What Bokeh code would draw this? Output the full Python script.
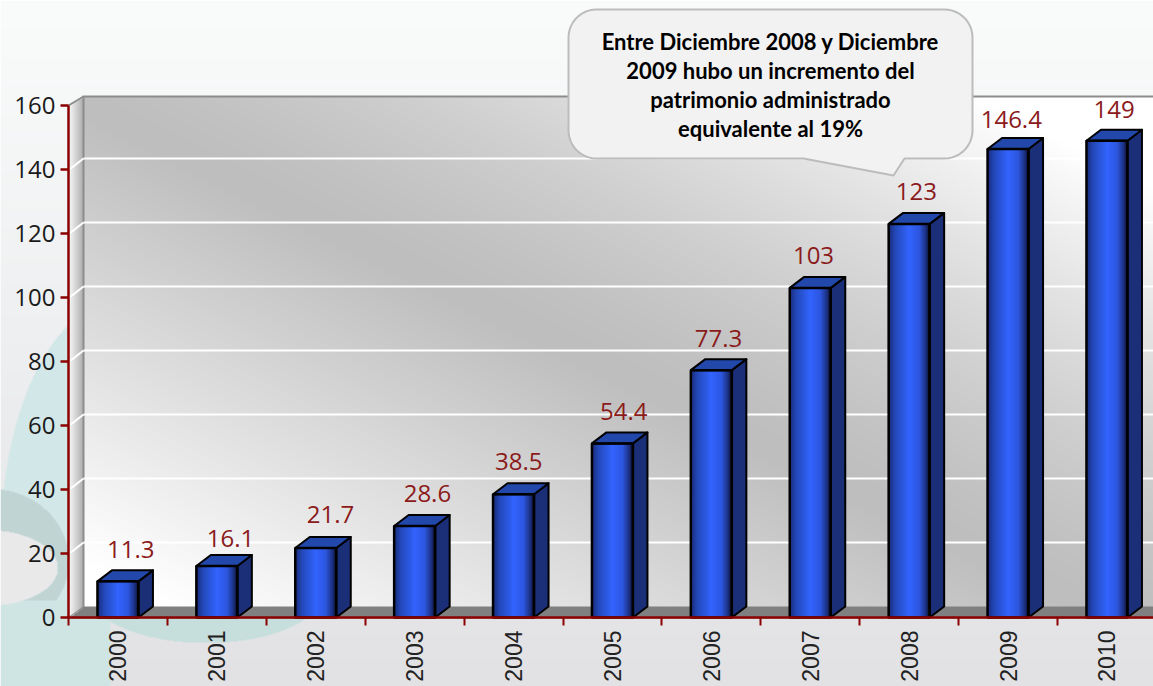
import numpy as np
from bokeh.plotting import figure
from bokeh.models import Range1d, LinearAxis, FixedTicker
from bokeh.core.properties import value
from bokeh.embed import file_html
from bokeh.resources import INLINE

years = [2000, 2001, 2002, 2003, 2004, 2005, 2006, 2007, 2008, 2009, 2010]
amounts = [11.3, 16.1, 21.7, 28.6, 38.5, 54.4, 77.3, 103, 123, 146.4, 149]
bar_labels = ["11.3", "16.1", "21.7", "28.6", "38.5", "54.4", "77.3", "103", "123", "146.4", "149"]
y_ticks = [0, 20, 40, 60, 80, 100, 120, 140, 160]
note_lines = ["Entre Diciembre 2008 y Diciembre", "2009 hubo un incremento del",
              "patrimonio administrado", "equivalente al 19%"]

W, H = 1153, 686
OFF = 0
X0, PXU = 68.0, 98.9         # page x of first boundary, px per category
Y0, PYU = 617.0, 3.2         # page y of zero, px per unit

def dx(px): return 1999.5 + (px - X0) / PXU
def dy(py): return (Y0 - py) / PYU

DEPTH_X = 14.5 / PXU
DEPTH_Y = 11 / PYU
BAR_W = 41 / PXU

p = figure(width=W, height=H, output_backend="svg", toolbar_location=None,
           x_range=Range1d(dx(OFF), dx(OFF + W)), y_range=Range1d(dy(OFF + H), dy(OFF)),
           min_border=0, x_axis_type=None, y_axis_type=None)
p.outline_line_color = None
p.grid.visible = False


def lerp(a, b, t):
    return np.asarray(a, float) + (np.asarray(b, float) - np.asarray(a, float)) * t[..., None]


def to_rgba(arr):
    a = np.clip(arr, 0, 255).astype(np.uint32)
    return (255 << 24 | a[..., 2] << 16 | a[..., 1] << 8 | a[..., 0]).astype(np.uint32)


def scene():
    yy, xx = np.mgrid[OFF:OFF + H, OFF:OFF + W].astype(float)
    t = np.clip(yy / 686, 0, 1)
    img = lerp((250, 252, 252), (226, 226, 228), t)

    def paint(mask, col):
        img[mask] = col

    # page decoration: teal shapes on the lower left
    paint((((xx - 120) / 120) ** 2 + ((yy - 540) / 240) ** 2 < 1) & ((xx < 110) | (yy < 617)), (210, 231, 231))
    paint((xx < 110) & (yy >= 600), (206, 229, 228))
    paint(((xx - 205) / 118) ** 2 + ((yy - 590) / 52) ** 2 < 1, (198, 222, 220))
    paint((((xx + 10) / 78) ** 2 + ((yy - 560) / 72) ** 2 < 1) & (yy < 600), (192, 212, 212))
    paint(((xx + 15) / 72) ** 2 + ((yy - 567) / 38) ** 2 < 1, (233, 233, 234))

    # back wall: grey band on a diagonal, lighter towards two corners
    diag = 110 + (xx - 83) * 0.5
    d = yy - diag
    light = np.where(d > 0, np.clip(d / 450, 0, 1), np.clip(-d / 458, 0, 1) ** 1.4)
    shade = 190 + (255 - 190) * light
    wall = (xx >= 83) & (yy >= 96) & (yy < 606)
    img[wall] = np.stack([shade] * 3, -1)[wall]

    # floor
    floor = (yy >= 606) & (yy <= 617) & (xx - X0 >= (617 - yy) * 15 / 11)
    paint(floor, (128, 128, 128))

    # side wall
    side = (xx >= 68) & (xx < 83) & (yy >= 105 - (xx - 68) * 9 / 15) & (yy <= 617 - (xx - 68) * 11 / 15)
    sh = 248 - (xx - 68) / 15 * 78
    img[side] = np.stack([sh] * 3, -1)[side]

    # wall edges
    paint((xx >= 82) & (xx <= 83.5) & (yy >= 96) & (yy <= 606), (140, 140, 140))
    paint((xx >= 82) & (yy >= 95) & (yy <= 96.5), (140, 140, 140))
    return to_rgba(img)


p.image_rgba(image=[scene()[::-1]], x=dx(OFF), y=dy(OFF + H), dw=W / PXU, dh=H / PYU)

# gridlines on both walls
grid_vals = [v for v in y_ticks if 0 < v < 160]
gx0 = [dx(83)] * len(grid_vals)
gx1 = [dx(OFF + W)] * len(grid_vals)
gy = [v + DEPTH_Y for v in grid_vals]
p.segment(gx0, gy, gx1, gy, line_color="white", line_width=2)
p.segment([dx(69)] * len(grid_vals), grid_vals, gx0, gy, line_color="white", line_width=2)
p.line([dx(68), dx(83)], [160, dy(96)], line_color="#8c8c8c", line_width=2)
p.line([dx(68), dx(83)], [0, 0 + DEPTH_Y], line_color="#8c8c8c", line_width=1)

# bars
stops_x = np.array([0.0, 0.15, 0.5, 0.75, 0.92, 1.0])
stops_c = np.array([[26, 46, 128], [35, 72, 184], [51, 100, 255], [45, 87, 224], [28, 48, 128], [10, 16, 48]], float)
u = np.linspace(0, 1, 41)
grad = np.stack([np.interp(u, stops_x, stops_c[:, i]) for i in range(3)], -1)[None, :, :]
grad_img = to_rgba(grad)

for yr, val in zip(years, amounts):
    l, r = yr - BAR_W / 2, yr + BAR_W / 2
    p.image_rgba(image=[grad_img], x=l, y=0, dw=BAR_W, dh=val)
    p.patch([r, r + DEPTH_X, r + DEPTH_X, r], [0, DEPTH_Y, val + DEPTH_Y, val],
            fill_color="#1a2f78", line_color="black", line_width=2, line_join="round")
    p.patch([l, l + DEPTH_X, r + DEPTH_X, r], [val, val + DEPTH_Y, val + DEPTH_Y, val],
            fill_color="#2348ac", line_color="black", line_width=2, line_join="round")
    p.quad(left=l, right=r, bottom=0, top=val, fill_color=None, line_color="black", line_width=2.5)

# value labels
label_nudge_x = [5.5, 6.5, 7.5, 5.5, -2, 4, 0, -4, 0, -4, 0]
label_nudge_y = [-12, -8, -14, -13, -13, -12, -12, -13, -13, -10, -12]
p.text([y + DEPTH_X / 2 for y in years], [v + DEPTH_Y for v in amounts], text=bar_labels,
       text_font=value("Open Sans"), text_font_size="24px", text_color="#8b1a1a",
       text_align="center", text_baseline="bottom",
       x_offset=label_nudge_x, y_offset=label_nudge_y)

# callout
def bubble():
    L, R, T, B, rad = 568.0, 972.0, 9.0, 158.0, 28.0
    a = np.linspace(0, np.pi / 2, 12)
    xs, ys = [], []
    for cx, cy, s in [(R - rad, T + rad, 0), (R - rad, B - rad, 1), (L + rad, B - rad, 2), (L + rad, T + rad, 3)]:
        ang = -np.pi / 2 + a + s * np.pi / 2
        xs += list(cx + rad * np.cos(ang))
        ys += list(cy + rad * np.sin(ang))
    k = 24  # bottom edge, between the second and third corner
    xs = xs[:k] + [904, 893, 803] + xs[k:]
    ys = ys[:k] + [158, 175, 158] + ys[k:]
    return [dx(v) for v in xs], [dy(v) for v in ys]

bx, by = bubble()
p.patch(bx, by, fill_color="#f2f2f2", line_color="#bcbcbc", line_width=2)
p.text([dx(770)] * 4, [dy(v) for v in (41, 70, 99, 128)], text=note_lines,
       text_font=value("Lato"), text_font_style="bold", text_font_size="22px",
       text_color="black", text_align="center", text_baseline="middle")

# axes
yax = LinearAxis(fixed_location=dx(X0), ticker=FixedTicker(ticks=y_ticks), bounds=(0, 160))
yax.axis_line_color = "#8b0000"
yax.axis_line_width = 2.5
yax.major_tick_line_color = "#8b0000"
yax.major_tick_line_width = 2.5
yax.major_tick_out = 8
yax.major_tick_in = 0
yax.minor_tick_line_color = None
yax.major_label_standoff = 5
yax.major_label_text_font = "Open Sans"
yax.major_label_text_font_size = "24px"
yax.major_label_text_color = "#1a1a1a"
p.add_layout(yax, "left")

boundaries = [y - 0.5 for y in years] + [years[-1] + 0.5]
xax = LinearAxis(fixed_location=0, ticker=FixedTicker(ticks=years, minor_ticks=boundaries),
                 bounds=(dx(X0), dx(OFF + W)))
xax.axis_line_color = "#8b0000"
xax.axis_line_width = 2.5
xax.major_tick_line_color = None
xax.major_tick_out = 0
xax.major_tick_in = 0
xax.minor_tick_line_color = "#8b0000"
xax.minor_tick_line_width = 2
xax.minor_tick_out = 8
xax.minor_tick_in = 0
xax.major_label_orientation = np.pi / 2
xax.major_label_standoff = 5
xax.major_label_text_font = "Liberation Sans"
xax.major_label_text_font_size = "23px"
xax.major_label_text_color = "#222222"
p.add_layout(xax, "below")

open("out.html", "w").write(file_html(p, INLINE))
